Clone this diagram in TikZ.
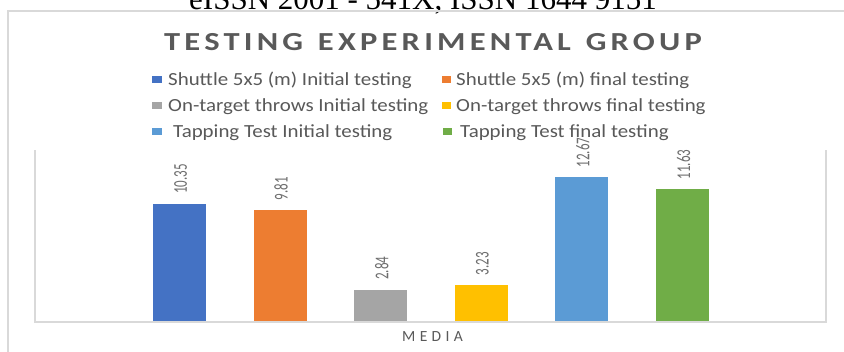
\documentclass[tikz,border=0pt]{standalone}
\usepackage{graphicx}
\usepackage{fontspec}
\setmainfont{Carlito}
\newfontfamily\issnfont{Liberation Serif}
\newfontfamily\titlefont[LetterSpace=13]{Carlito}
\newfontfamily\axisfont[LetterSpace=28]{Carlito}
\definecolor{cA}{HTML}{4472C4}
\definecolor{cB}{HTML}{ED7D31}
\definecolor{cC}{HTML}{A5A5A5}
\definecolor{cD}{HTML}{FFC000}
\definecolor{cE}{HTML}{5B9BD5}
\definecolor{cF}{HTML}{70AD47}
\definecolor{txt}{HTML}{595959}
\definecolor{lbl}{HTML}{6E6E6E}
\definecolor{frame}{HTML}{D9D9D9}
\tikzset{
  framestyle/.style={draw=frame, line width=1.5bp},
  plotline/.style={draw=frame, line width=1.2bp},
  legtext/.style={anchor=base west, inner sep=0, text=txt, font=\fontsize{18.5bp}{20bp}\selectfont},
  legbox/.style={fill=#1, draw=none},
  barlabel/.style={anchor=west, rotate=90, inner sep=0, text=lbl, font=\fontsize{13bp}{15bp}\selectfont},
  barstyle/.style={fill=#1, draw=none}
}
\begin{document}
\begin{tikzpicture}[x=1bp,y=-1bp]
\useasboundingbox (0,0) rectangle (844,351);
\clip (0,0) rectangle (844,351);
\fill[white] (0,0) rectangle (844,351);
% cut-off journal line
\node[anchor=base west, inner sep=0, font=\issnfont\fontsize{31bp}{35bp}\selectfont] (issn) at (189,9) {eISSN 2001 - 541X, ISSN 1644 9151};
% chart frame
\coordinate (fTR) at (846,11);
\coordinate (fTL) at (8,11);
\coordinate (fBL) at (8,353);
\draw[framestyle] (fTR) -- (fTL) -- (fBL);
% title
\node[inner sep=0, text=txt, font=\titlefont\bfseries\fontsize{26bp}{28bp}\selectfont] (title) at (433,42) {\scalebox{1.25}[1]{TESTING\hspace{0.1em} EXPERIMENTAL\hspace{0.1em} GROUP}};
% legend
\foreach \sx/\sy/\col/\tx/\t [count=\i] in {
  152/79.5/cA/168/{Shuttle 5x5 (m) Initial testing},
  441.5/79.5/cB/456/{Shuttle 5x5 (m) final testing},
  152/105.5/cC/168/{On-target throws Initial testing},
  441.5/105.5/cD/456/{On-target throws final testing},
  152/131.5/cE/173/{Tapping Test Initial testing},
  442.5/131.5/cF/460/{Tapping Test final testing}}{
  \fill[legbox=\col] (\sx,\sy-3.75) rectangle ++(9.5,7.5);
  \node[legtext] (leg\i) at (\tx,\sy+5.5) {\scalebox{1.13}[1]{\t}};
}
% plot area
\coordinate (pTL) at (35,150);
\coordinate (pBL) at (35,322);
\coordinate (pBR) at (826,322);
\coordinate (pTR) at (826,150);
% bars
\def\unit{11.44}
\foreach \i/\v/\col in {0/10.35/cA,1/9.81/cB,2/2.84/cC,3/3.23/cD,4/12.67/cE,5/11.63/cF}{
  \pgfmathsetmacro\xl{153+100.6*\i}
  \pgfmathsetmacro\yt{322-\v*\unit}
  \fill[barstyle=\col] (\xl,322) rectangle (\xl+53,\yt);
  \node[barlabel] (val\i) at (\xl+27.5,\yt-9.5) {\scalebox{1}[1.5]{\v}};
}
\draw[plotline] (pTL) -- (pBL) -- (pBR) -- (pTR);
% axis label
\node[inner sep=0, text=txt, font=\axisfont\fontsize{15.5bp}{17bp}\selectfont] (media) at (432.5,337) {MEDIA};
\end{tikzpicture}
\end{document}
